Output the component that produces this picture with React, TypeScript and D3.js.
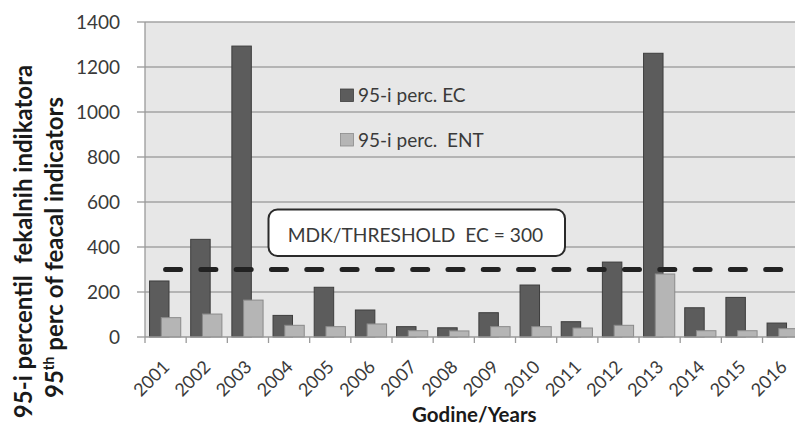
import React from "react";
import * as d3 from "d3";

// Years on the category axis
const years: string[] = [
  "2001", "2002", "2003", "2004", "2005", "2006", "2007", "2008",
  "2009", "2010", "2011", "2012", "2013", "2014", "2015", "2016",
];

// 95th percentile of E. coli per year
const ecValues: number[] = [
  249, 434, 1293, 96, 221, 120, 46, 41, 108, 231, 68, 333, 1261, 130, 176, 62,
];

// 95th percentile of intestinal enterococci per year
const entValues: number[] = [
  86, 102, 164, 52, 46, 58, 28, 27, 46, 46, 40, 52, 280, 28, 28, 37,
];

// Regulatory threshold for EC
const thresholdValue = 300;

const yTicks: number[] = [0, 200, 400, 600, 800, 1000, 1200, 1400];

const legendLabels: string[] = ["95-i perc. EC", "95-i perc.  ENT"];
const thresholdLabel = "MDK/THRESHOLD  EC = 300";
const xTitle = "Godine/Years";
const yTitleLine1 = "95-i percentil  fekalnih indikatora";

const W = 795;
const H = 433;
const FONT = "Lato, 'Open Sans', sans-serif";

const plotLeft = 145;
const plotRight = 803.7;
const plotTop = 22;
const plotBottom = 337;

const DARK = "#5c5c5c";
const DARK_EDGE = "#3e3e3e";
const LIGHT = "#b5b5b5";
const LIGHT_EDGE = "#8a8a8a";

export default function App() {
  const x = d3.scaleBand<string>().domain(years).range([plotLeft, plotRight]).padding(0);
  const y = d3.scaleLinear().domain([0, 1400]).range([plotBottom, plotTop]);
  const bw = x.bandwidth();
  const barW = bw * 0.473;
  const ecOff = bw * 0.11;
  const entOff = bw * 0.395;

  const thresholdLine = d3
    .line<string>()
    .x((d) => (x(d) as number) + bw / 2)
    .y(() => y(thresholdValue));

  return (
    <svg
      width={W}
      height={H}
      style={{ position: "absolute", left: 0, top: 0, background: "#fff" }}
      fontFamily={FONT}
    >
      <defs>
        <clipPath id="page">
          <rect x={0} y={0} width={W} height={H} />
        </clipPath>
      </defs>
      <g clipPath="url(#page)">
        {/* plot background */}
        <rect x={plotLeft} y={plotTop} width={plotRight - plotLeft} height={plotBottom - plotTop} fill="#e7e7e7" />

        {/* horizontal gridlines */}
        {yTicks.filter((t) => t > 0).map((t) => (
          <line key={"g" + t} x1={plotLeft} x2={plotRight} y1={y(t)} y2={y(t)} stroke="#a3a3a3" strokeWidth={1.3} />
        ))}

        {/* y axis line and ticks */}
        <line x1={plotLeft} x2={plotLeft} y1={plotTop} y2={plotBottom} stroke="#9a9a9a" strokeWidth={1.3} />
        {yTicks.map((t) => (
          <g key={"yt" + t}>
            <line x1={plotLeft - 8} x2={plotLeft} y1={y(t)} y2={y(t)} stroke="#9a9a9a" strokeWidth={1.3} />
            <text x={120} y={y(t)} dy="0.36em" textAnchor="end" fontSize={19} fill="#3a3a3a">
              {t}
            </text>
          </g>
        ))}

        {/* bars */}
        {years.map((yr, i) => (
          <g key={"b" + yr}>
            <rect
              x={(x(yr) as number) + ecOff}
              y={y(ecValues[i])}
              width={barW}
              height={plotBottom - y(ecValues[i])}
              fill={DARK}
              stroke={DARK_EDGE}
              strokeWidth={1}
            />
            <rect
              x={(x(yr) as number) + entOff}
              y={y(entValues[i])}
              width={barW}
              height={plotBottom - y(entValues[i])}
              fill={LIGHT}
              stroke={LIGHT_EDGE}
              strokeWidth={1}
            />
          </g>
        ))}

        {/* x axis line and ticks */}
        <line x1={plotLeft} x2={plotRight} y1={plotBottom} y2={plotBottom} stroke="#9a9a9a" strokeWidth={1.3} />
        {years.map((yr) => (
          <line
            key={"xt" + yr}
            x1={x(yr) as number}
            x2={x(yr) as number}
            y1={plotBottom}
            y2={plotBottom + 6}
            stroke="#9a9a9a"
            strokeWidth={1.3}
          />
        ))}
        <line x1={plotRight} x2={plotRight} y1={plotBottom} y2={plotBottom + 6} stroke="#9a9a9a" strokeWidth={1.3} />

        {/* threshold line */}
        <path
          d={thresholdLine(years) ?? ""}
          fill="none"
          stroke="#222"
          strokeWidth={5}
          strokeDasharray="15 20.3"
          strokeLinecap="round"
        />

        {/* threshold label */}
        <rect x={268.5} y={209.5} width={296.5} height={46.5} rx={9} fill="#fff" stroke="#2a2a2a" strokeWidth={2} />
        <text x={287.7} y={241.5} fontSize={19.2} fill="#3a3a3a" style={{ whiteSpace: "pre" }}>
          {thresholdLabel}
        </text>

        {/* legend */}
        {legendLabels.map((lab, i) => (
          <g key={"lg" + i}>
            <rect
              x={340.5}
              y={89 + i * 44.5}
              width={13}
              height={12.5}
              fill={i === 0 ? DARK : LIGHT}
              stroke={i === 0 ? DARK_EDGE : LIGHT_EDGE}
              strokeWidth={0.8}
            />
            <text x={358} y={102 + i * 44.5} fontSize={19} fill="#3a3a3a" style={{ whiteSpace: "pre" }}>
              {lab}
            </text>
          </g>
        ))}

        {/* x tick labels */}
        {years.map((yr) => {
          const cx = (x(yr) as number) + bw / 2 + 5;
          const cy = plotBottom + 31;
          return (
            <text
              key={"xl" + yr}
              x={cx}
              y={cy}
              textAnchor="end"
              fontSize={18}
              fill="#3a3a3a"
              transform={`rotate(-45, ${cx}, ${cy})`}
            >
              {yr}
            </text>
          );
        })}

        {/* axis titles */}
        <text
          x={(plotLeft + plotRight) / 2}
          y={422}
          textAnchor="middle"
          fontSize={20.5}
          fontWeight="bold"
          fill="#1a1a1a"
        >
          {xTitle}
        </text>
        <text
          x={0}
          y={0}
          transform="translate(32,241.5) rotate(-90)"
          textAnchor="middle"
          fontSize={24}
          fontWeight="bold"
          fill="#1a1a1a"
          style={{ whiteSpace: "pre" }}
        >
          {yTitleLine1}
        </text>
        <text
          x={0}
          y={0}
          transform="translate(63,247.5) rotate(-90)"
          textAnchor="middle"
          fontSize={24}
          fontWeight="bold"
          fill="#1a1a1a"
        >
          95
          <tspan fontSize={14.5} dy={-9.5}>th</tspan>
          <tspan dy={9.5}> perc of feacal indicators</tspan>
        </text>
      </g>
    </svg>
  );
}
